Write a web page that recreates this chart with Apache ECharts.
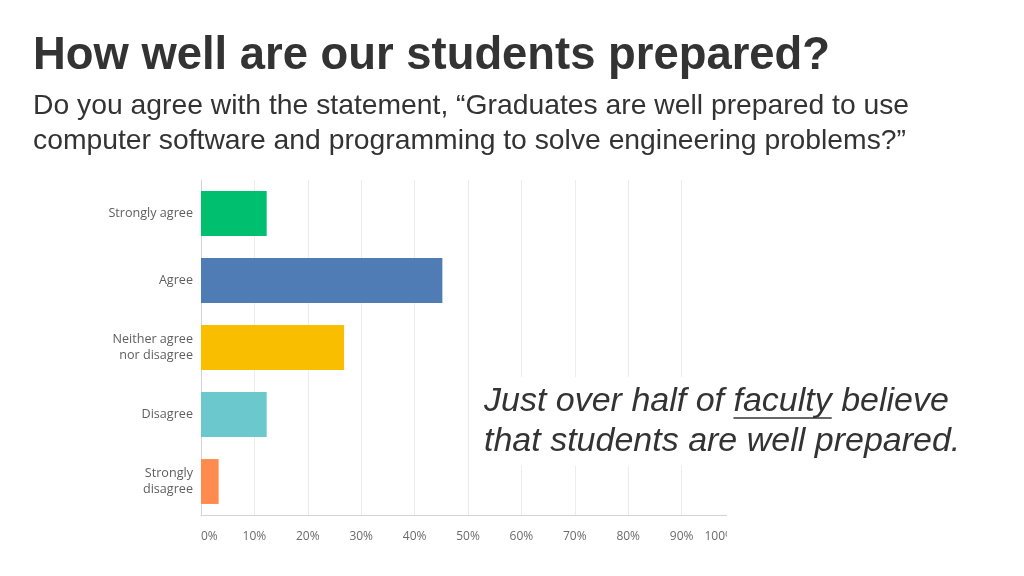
<!DOCTYPE html>
<html>
<head>
<meta charset="utf-8" />
<title>How well are our students prepared?</title>
<style>
html, body { margin: 0; padding: 0; background: #ffffff; }
#chart { width: 1024px; height: 576px; }
</style>
</head>
<body>
<div id="chart"></div>
<script src="https://cdn.jsdelivr.net/npm/echarts@6/dist/echarts.min.js"></script>
<script>
// survey answers, top to bottom
var categories = ['Strongly agree', 'Agree', 'Neither agree\nnor disagree', 'Disagree', 'Strongly\ndisagree'];
var percents = [12.3, 45.2, 26.8, 12.3, 3.3];
var barColors = ['#00bf6f', '#507cb6', '#f9be00', '#6bc8cd', '#ff8b4f'];
var xTicks = [0, 10, 20, 30, 40, 50, 60, 70, 80, 90, 100];

var titleText = 'How well are our students prepared?';
var subLine1 = 'Do you agree with the statement, \u201cGraduates are well prepared to use';
var subLine2 = 'computer software and programming to solve engineering problems?\u201d';
var noteA = 'Just over half of ';
var noteB = 'faculty';
var noteC = ' believe';
var noteLine2 = 'that students are well prepared.';

// measure text so the underline sits under "faculty"
function textWidth(str, font) {
    var c = document.createElement('canvas').getContext('2d');
    c.font = font;
    return c.measureText(str).width;
}
var noteFont = 'italic 34px "Liberation Sans", Arial, sans-serif';
var noteX = 484;
var ulStart = noteX + textWidth(noteA, noteFont);
var ulEnd = ulStart + textWidth(noteB, noteFont);

var barData = [];
for (var i = 0; i < percents.length; i++) {
    barData.push({ value: percents[i], itemStyle: { color: barColors[i] } });
}

var myChart = echarts.init(document.getElementById('chart'));
var option = {
    backgroundColor: '#ffffff',
    animation: false,
    grid: { left: 201, right: 289, top: 180, bottom: 61, containLabel: false },
    xAxis: {
        type: 'value',
        min: xTicks[0],
        max: xTicks[xTicks.length - 1],
        interval: 10,
        axisLine: { show: true, lineStyle: { color: '#d3d3d3', width: 1 } },
        axisTick: { show: false },
        splitLine: { show: true, lineStyle: { color: '#ececec', width: 1 } },
        axisLabel: {
            formatter: '{value}%',
            color: '#6b6b6b',
            fontSize: 12,
            fontFamily: '"Open Sans", sans-serif',
            margin: 16,
            alignMinLabel: 'left',
            alignMaxLabel: 'right'
        }
    },
    yAxis: {
        type: 'category',
        inverse: true,
        data: categories,
        axisLine: { show: true, lineStyle: { color: '#d3d3d3', width: 1 } },
        axisTick: { show: false },
        axisLabel: {
            color: '#5f5f5f',
            fontSize: 12.6,
            lineHeight: 16,
            fontFamily: '"Open Sans", sans-serif',
            margin: 8,
            align: 'right'
        }
    },
    series: [{
        type: 'bar',
        data: barData,
        barCategoryGap: '33%',
        silent: true
    }],
    graphic: [
        // chart image is cut off at the right edge
        { type: 'rect', z: 100, shape: { x: 727, y: 170, width: 300, height: 400 }, style: { fill: '#ffffff' } },
        // white box behind the note
        { type: 'rect', z: 100, shape: { x: 476, y: 377, width: 490, height: 89 }, style: { fill: '#ffffff' } },
        { type: 'text', z: 110, x: 33, y: 56, style: { text: titleText, font: 'bold 45.4px "Liberation Sans", Arial, sans-serif', fill: '#333333', verticalAlign: 'middle' } },
        { type: 'text', z: 110, x: 33, y: 106, style: { text: subLine1, font: '28.3px "Liberation Sans", Arial, sans-serif', fill: '#333333', verticalAlign: 'middle' } },
        { type: 'text', z: 110, x: 33, y: 141, style: { text: subLine2, font: '28.3px "Liberation Sans", Arial, sans-serif', fill: '#333333', verticalAlign: 'middle' } },
        { type: 'text', z: 110, x: noteX, y: 402, style: { text: noteA + noteB + noteC, font: noteFont, fill: '#333333', verticalAlign: 'middle' } },
        { type: 'line', z: 110, shape: { x1: ulStart, y1: 418, x2: ulEnd, y2: 418 }, style: { stroke: '#333333', lineWidth: 1.5 } },
        { type: 'text', z: 110, x: noteX, y: 442, style: { text: noteLine2, font: noteFont, fill: '#333333', verticalAlign: 'middle' } }
    ]
};
option && myChart.setOption(option);
</script>
</body>
</html>
